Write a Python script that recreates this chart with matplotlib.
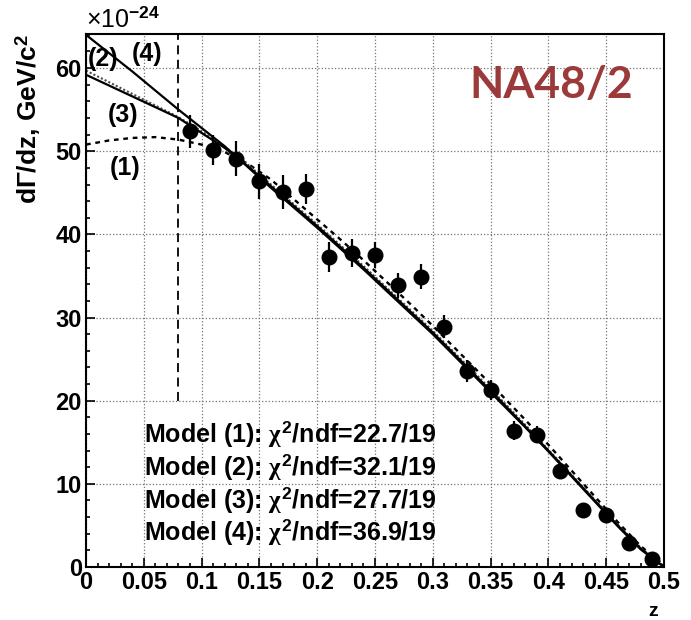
import matplotlib
matplotlib.use('Agg')
import matplotlib.pyplot as plt
from matplotlib.ticker import MultipleLocator, FuncFormatter
import numpy as np

plt.rcParams['font.family'] = ['Liberation Sans', 'DejaVu Sans']
plt.rcParams['font.weight'] = 'bold'
plt.rcParams['mathtext.fontset'] = 'custom'
plt.rcParams['mathtext.rm'] = 'Liberation Sans:bold'
plt.rcParams['mathtext.bf'] = 'Liberation Sans:bold'
plt.rcParams['mathtext.it'] = 'Liberation Serif'

# measured spectrum (units of 1e-24 GeV^-1 c^2)
z_data = [0.09, 0.11, 0.13, 0.15, 0.17, 0.19, 0.21, 0.23, 0.25, 0.27, 0.29,
          0.31, 0.33, 0.35, 0.37, 0.39, 0.41, 0.43, 0.45, 0.47, 0.49]
rate = [52.4, 50.2, 49.1, 46.4, 45.1, 45.5, 37.3, 37.8, 37.5, 33.9, 34.9,
        28.9, 23.6, 21.3, 16.4, 15.9, 11.5, 6.9, 6.2, 2.9, 1.0]
rate_err = [2.0, 1.8, 2.1, 2.1, 2.0, 1.8, 1.8, 1.7, 1.6, 1.5, 1.5,
            1.4, 1.3, 1.2, 1.1, 1.0, 0.9, 0.7, 0.6, 0.5, 0.4]

# model curves sampled on z = 0, 0.02, ..., 0.50
z_model = [0.00, 0.02, 0.04, 0.06, 0.08, 0.10, 0.12, 0.14, 0.16, 0.18, 0.20,
           0.22, 0.24, 0.26, 0.28, 0.30, 0.32, 0.34, 0.36, 0.38, 0.40,
           0.42, 0.44, 0.46, 0.48, 0.50]
model1 = [50.8, 51.3, 51.6, 51.7, 51.4, 50.8, 49.9, 48.5, 46.6, 44.2, 41.8,
          39.4, 36.9, 34.3, 31.7, 29.0, 26.2, 23.4, 20.6, 17.7, 14.7,
          11.6, 8.5, 5.4, 2.5, 0.2]
model2 = [59.7, 58.3, 56.9, 55.5, 54.1, 52.4, 50.5, 48.4, 46.0, 43.6, 41.2,
          38.7, 36.2, 33.6, 31.0, 28.4, 25.6, 22.8, 20.0, 17.1, 14.1,
          11.1, 8.1, 5.1, 2.3, 0.1]
model3 = [59.2, 57.9, 56.6, 55.3, 54.0, 52.2, 50.4, 48.2, 45.8, 43.4, 41.0,
          38.5, 36.0, 33.4, 30.8, 28.2, 25.4, 22.6, 19.8, 16.9, 14.0,
          11.0, 8.0, 5.0, 2.2, 0.0]
model4 = [64.0, 61.8, 59.6, 57.3, 55.0, 52.8, 50.6, 48.1, 45.6, 43.2, 40.8,
          38.3, 35.8, 33.2, 30.6, 28.0, 25.2, 22.4, 19.6, 16.8, 13.9,
          10.9, 7.9, 4.9, 2.1, 0.0]

fit_labels = ['Model (1): $\\chi^{\\mathrm{2}}$/ndf=22.7/19',
              'Model (2): $\\chi^{\\mathrm{2}}$/ndf=32.1/19',
              'Model (3): $\\chi^{\\mathrm{2}}$/ndf=27.7/19',
              'Model (4): $\\chi^{\\mathrm{2}}$/ndf=36.9/19']

CUT_Z = 0.08          # lower z cut shown as vertical dashed line
CUT_FROM = 20

fig = plt.figure(figsize=(6.91, 6.2), dpi=100)
ax = fig.add_axes([86/691, 53/620, 578/691, 533/620])
ax.set_xlim(0, 0.5)
ax.set_ylim(0, 64.1)

ax.grid(True, which='major', linestyle=':', color='0.45', lw=0.9)
ax.set_axisbelow(True)

ax.vlines(CUT_Z, CUT_FROM, 64.1, colors='k', linestyles=(0, (5, 3)), lw=1.3)

ax.plot(z_model, model1, color='k', lw=1.7, linestyle=(0, (2, 2)))
ax.plot(z_model, model2, color='0.3', lw=1.5, linestyle=(0, (1, 1)))
ax.plot(z_model, model3, color='k', lw=1.6)
ax.plot(z_model, model4, color='k', lw=1.6)

ax.errorbar(z_data, rate, yerr=rate_err, fmt='o', color='k', ms=10.5,
            elinewidth=1.6, capsize=0)

# curve labels
for lab, zx, yy in [('(4)', 0.053, 61.7), ('(2)', 0.015, 61.1),
                    ('(3)', 0.032, 54.4), ('(1)', 0.034, 48.0)]:
    ax.text(zx, yy, lab, ha='center', va='center', fontsize=18, fontweight='bold')

for i, lab in enumerate(fit_labels):
    ax.text(0.05, [16.0, 12.0, 8.0, 4.2][i], lab, ha='left', va='center',
            fontsize=18, fontweight='bold')

fig.text(551/691, 1 - 85/620, 'NA48/2', family='Lato', fontweight='bold',
         fontsize=32, color='#9B3A3A', ha='center', va='center')

# axes cosmetics (ROOT style)
ax.xaxis.set_major_locator(MultipleLocator(0.05))
ax.xaxis.set_minor_locator(MultipleLocator(0.01))
ax.yaxis.set_major_locator(MultipleLocator(10))
ax.yaxis.set_minor_locator(MultipleLocator(2))
ax.xaxis.set_major_formatter(FuncFormatter(lambda v, p: '%g' % round(v, 3)))
ax.tick_params(which='both', direction='in', top=False, right=False, width=1.2)
ax.tick_params(which='major', length=6.5, labelsize=17)
ax.tick_params(which='minor', length=3.2)
ax.tick_params(axis='x', pad=3)
ax.tick_params(axis='y', pad=3)
for lbl in ax.get_xticklabels() + ax.get_yticklabels():
    lbl.set_fontweight('bold')
for s in ax.spines.values():
    s.set_linewidth(1.5)

ax.set_ylabel('d\u0393/dz, GeV/c$^{\\mathrm{2}}$', loc='top', fontsize=19,
              fontweight='bold')
ax.yaxis.set_label_coords(-0.074, 1.0)
ax.set_xlabel('z', loc='right', fontsize=14, fontweight='bold')
ax.xaxis.label.set_va('baseline')
ax.xaxis.set_label_coords(0.99, -0.091)

ax.text(0.0, 1.003, '\u00d710$^{\\mathrm{-24}}$', transform=ax.transAxes,
        ha='left', va='bottom', fontsize=18, fontweight='normal')

fig.savefig('out.png', dpi=100)
